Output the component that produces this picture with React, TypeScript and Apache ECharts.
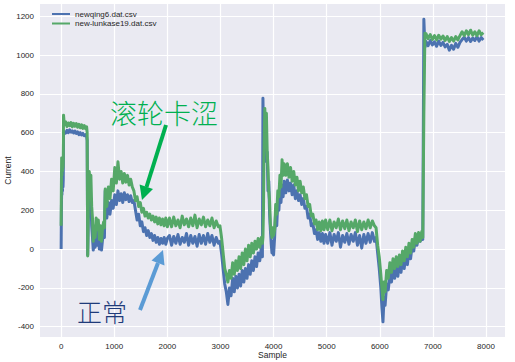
import React, { useEffect, useRef } from 'react';
import * as echarts from 'echarts';

const seriesNames = ['newqing6.dat.csv', 'new-lunkase19.dat.csv'];

const sampleX = [
  0, 5, 10, 15, 20, 25, 30, 35,
  40, 45, 60, 85, 110, 135, 160, 185, 210, 235, 260, 285, 310, 335, 360, 385, 410, 435, 460, 480,
  490, 500, 510, 520, 530, 545, 560, 575, 590, 605, 620, 640, 660, 680, 700, 720, 740, 760, 780, 800, 815, 830, 845,
  860, 890, 920, 950, 980, 1010, 1040, 1070, 1100, 1130, 1160, 1190, 1220, 1250, 1280, 1310, 1340, 1370, 1400,
  1430, 1460, 1490, 1520, 1550, 1580, 1610, 1640, 1670, 1700, 1730, 1760, 1790, 1820, 1850, 1880, 1910, 1940, 1970, 2000,
  2040, 2080, 2120, 2160, 2200, 2240, 2280, 2320, 2360, 2400, 2440, 2480, 2520, 2560, 2600, 2640, 2680, 2720, 2760, 2800, 2840, 2880, 2920, 2960,
  2990, 3020, 3050, 3080, 3110, 3140, 3170, 3200, 3230, 3260, 3290, 3320, 3350, 3380, 3410, 3440, 3470, 3500, 3530, 3560, 3590, 3620, 3650, 3680, 3710, 3740, 3770, 3790,
  3800, 3810, 3820, 3835, 3850, 3865, 3880, 3895, 3910, 3925, 3940, 3955, 3970, 3985, 4000,
  4020, 4040, 4060, 4080, 4100, 4120, 4140, 4160, 4180, 4200, 4230, 4260, 4290, 4320, 4350, 4380, 4410, 4440, 4470, 4500, 4530, 4560, 4590,
  4620, 4650, 4680, 4710, 4740, 4770, 4800, 4830, 4860, 4890, 4920, 4950, 4980,
  5020, 5060, 5100, 5140, 5180, 5220, 5260, 5300, 5340, 5380, 5420, 5460, 5500, 5540, 5580, 5620, 5660, 5700, 5740, 5780, 5820, 5860, 5900,
  5930, 5960, 5990, 6020, 6040, 6060, 6080, 6100, 6130, 6160, 6190, 6220, 6250, 6280, 6310, 6340, 6370, 6400, 6430, 6460, 6490, 6520, 6550, 6580, 6610, 6640, 6670, 6700, 6730, 6760, 6790, 6810,
  6830, 6850, 6870, 6910, 6950, 6990, 7030, 7070, 7110, 7150, 7190, 7230, 7270, 7310, 7350, 7390, 7430, 7470, 7510, 7550, 7590, 7630, 7670, 7710, 7750, 7790, 7830, 7870, 7910, 7950,
];

const blueCurrent = [
  0, 200, 310, 280, 350, 300, 340, 320,
  360, 590, 605, 598, 612, 600, 615, 603, 610, 598, 608, 596, 604, 590, 600, 588, 596, 584, 590, 578,
  560, -30, 120, 250, 290, 200, 260, 120, 60, -5, 40, 10, 110, 20, 90, 0, 60, -5, 50, 80, 60, 300, 200,
  160, 240, 180, 250, 210, 280, 230, 300, 250, 285, 240, 290, 255, 280, 245, 275, 240, 250, 200,
  150, 180, 120, 140, 90, 110, 70, 95, 60, 80, 45, 70, 35, 60, 25, 55, 30, 60, 25, 55,
  70, 20, 65, 30, 75, 25, 60, 35, 80, 20, 70, 30, 65, 15, 75, 30, 70, 25, 80, 35, 70, 20, 60, 30,
  40, -20, -100, -180, -220, -285, -200, -240, -150, -220, -140, -200, -130, -190, -110, -170, -100, -150, -80, -130, -60, -110, -40, -90, -20, -60, 10, -40,
  777, 600, 680, 520, 600, 450, 500, 300, 350, 180, 100, 30, -20, 40, -30,
  60, 200, 120, 250, 200, 300, 240, 330, 270, 350, 290, 356, 300, 340, 280, 330, 260, 300, 250, 280, 230, 260, 210,
  220, 160, 180, 120, 130, 80, 100, 50, 85, 40, 80, 30, 75,
  30, 85, 20, 75, 40, 85, 10, 70, 35, 80, 25, 75, 40, 85, 20, 70, 5, 75, 30, 80, 35, 85, 40,
  60, -20, -100, -200, -300, -375, -250, -290, -180, -210, -130, -170, -100, -150, -80, -140, -70, -120, -50, -100, -30, -80, -10, -50, 20, -10, 60, 20, 70, 40, 80, 50,
  1184, 1040, 1070, 1048, 1075, 1052, 1068, 1045, 1072, 1050, 1065, 1042, 1055, 1025, 1050, 1030, 1060, 1040, 1065, 1080, 1092, 1072, 1090, 1070, 1088, 1075, 1095, 1072, 1090, 1078,
];

const greenCurrent = [
  120, 330, 470, 380, 440, 400, 450, 420,
  450, 690, 640, 655, 632, 650, 636, 652, 630, 648, 633, 647, 628, 643, 625, 640, 622, 636, 620, 630,
  600, -35, 200, 330, 400, 320, 380, 220, 160, 40, 120, 60, 160, 100, 150, 50, 120, 40, 110, 140, 110, 310, 240,
  220, 320, 260, 360, 300, 420, 340, 450, 360, 400, 340, 390, 345, 380, 330, 360, 320, 300, 250,
  270, 220, 240, 190, 210, 170, 190, 160, 180, 150, 170, 140, 165, 130, 160, 125, 155, 120, 160, 115,
  160, 115, 165, 120, 150, 110, 170, 125, 155, 115, 160, 120, 175, 110, 155, 125, 165, 115, 150, 120, 160, 110, 145, 115,
  120, 60, -20, -100, -130, -170, -110, -150, -70, -130, -60, -110, -40, -100, -20, -80, 0, -60, 20, -40, 30, -20, 40, 0, 55, 10, 60, 30,
  60, 200, 500, 725, 600, 700, 500, 420, 300, 250, 130, 90, 60, 110, 70,
  100, 230, 180, 300, 270, 380, 320, 460, 380, 440, 380, 440, 370, 420, 350, 400, 330, 370, 300, 350, 290, 320, 260,
  280, 220, 230, 170, 180, 130, 150, 100, 140, 95, 145, 100, 150,
  100, 150, 95, 140, 110, 155, 100, 145, 105, 150, 95, 140, 110, 150, 90, 145, 100, 140, 105, 150, 110, 145, 120,
  110, 20, -40, -130, -200, -260, -170, -220, -110, -150, -70, -120, -50, -100, -40, -90, -30, -80, -10, -60, 10, -40, 30, -20, 50, 10, 80, 30, 85, 40, 90, 60,
  700, 1112, 1110, 1085, 1105, 1080, 1100, 1078, 1102, 1082, 1098, 1075, 1095, 1070, 1090, 1072, 1095, 1078, 1100, 1120, 1100, 1125, 1105, 1128, 1102, 1120, 1100, 1125, 1105, 1115,
];

const FONT = 'Liberation Sans, Arial, sans-serif';
const CJK = '"Noto Sans CJK SC", sans-serif';

export default function App() {
  const ref = useRef<HTMLDivElement>(null);
  useEffect(() => {
    const chart = echarts.init(ref.current!, null, { renderer: 'svg' });
    const n = Math.min(sampleX.length, blueCurrent.length, greenCurrent.length);
    const pairs = (ys: number[]) => sampleX.slice(0, n).map((x, i) => [x, ys[i]]);
    chart.setOption({
      animation: false,
      backgroundColor: '#ffffff',
      textStyle: { fontFamily: FONT },
      grid: {
        left: 40, right: 10, top: 4, bottom: 25,
        show: true, backgroundColor: '#EAEAF2', borderWidth: 0,
        containLabel: false, outerBoundsMode: 'none',
      },
      legend: {
        left: 47, top: 5, orient: 'vertical',
        itemWidth: 18, itemHeight: 2, itemGap: 1.5, icon: 'rect',
        textStyle: { fontSize: 8, color: '#262626', fontFamily: FONT },
        data: seriesNames,
      },
      xAxis: {
        type: 'value', min: -398, max: 8358,
        minInterval: 1000, maxInterval: 1000, splitNumber: 9,
        axisLine: { show: false }, axisTick: { show: false },
        axisLabel: {
          fontSize: 8, color: '#262626', margin: 5,
          showMinLabel: false, showMaxLabel: false,
          formatter: (v: number) => (v % 1000 === 0 ? String(v) : ''),
        },
        splitLine: { show: true, showMinLine: false, showMaxLine: false, lineStyle: { color: '#ffffff', width: 1.2 } },
        name: 'Sample', nameLocation: 'middle', nameGap: 13, nameMoveOverlap: false,
        nameTextStyle: { fontSize: 8.5, color: '#262626', fontFamily: FONT },
      },
      yAxis: {
        type: 'value', min: -453, max: 1263,
        minInterval: 200, maxInterval: 200, splitNumber: 8,
        axisLine: { show: false }, axisTick: { show: false },
        axisLabel: {
          fontSize: 8, color: '#262626', margin: 6,
          showMinLabel: false, showMaxLabel: false,
          formatter: (v: number) => (v % 200 === 0 ? String(v) : ''),
        },
        splitLine: { show: true, showMinLine: false, showMaxLine: false, lineStyle: { color: '#ffffff', width: 1.2 } },
        name: 'Current', nameLocation: 'middle', nameGap: 28, nameMoveOverlap: false,
        nameTextStyle: { fontSize: 8.5, color: '#262626', fontFamily: FONT },
      },
      series: [
        {
          name: seriesNames[0], type: 'line', data: pairs(blueCurrent),
          symbol: 'none', showSymbol: false,
          lineStyle: { color: '#4C72B0', width: 3, join: 'round' }, itemStyle: { color: '#4C72B0' }, z: 2,
        },
        {
          name: seriesNames[1], type: 'line', data: pairs(greenCurrent),
          symbol: 'none', showSymbol: false,
          lineStyle: { color: '#55A868', width: 3, join: 'round' }, itemStyle: { color: '#55A868' }, z: 3,
        },
      ],
      graphic: [
        { type: 'text', left: 110, top: 99, z: 10, style: { text: '滚轮卡涩', font: `300 27px ${CJK}`, fill: '#00B050' } },
        { type: 'text', left: 77, top: 298, z: 10, style: { text: '正常', font: `300 25px ${CJK}`, fill: '#1F3B7A' } },
        { type: 'line', z: 10, shape: { x1: 166, y1: 125, x2: 146.5, y2: 187 }, style: { stroke: '#00B050', lineWidth: 4 } },
        { type: 'polygon', z: 10, shape: { points: [[142, 200], [153, 189], [139.6, 184.6]] }, style: { fill: '#00B050' } },
        { type: 'line', z: 10, shape: { x1: 140, y1: 310, x2: 158, y2: 263 }, style: { stroke: '#5B9BD5', lineWidth: 4 } },
        { type: 'polygon', z: 10, shape: { points: [[163, 250], [164.5, 265.6], [151.5, 260.6]] }, style: { fill: '#5B9BD5' } },
      ],
    });
    return () => chart.dispose();
  }, []);
  return <div ref={ref} style={{ position: 'fixed', left: 0, top: 0, width: 515, height: 362 }} />;
}
